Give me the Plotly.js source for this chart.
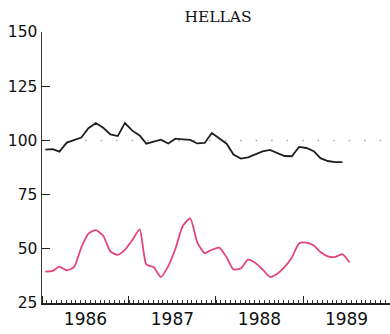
<!DOCTYPE html>
<html>
<head>
<meta charset="utf-8">
<script src="https://cdn.plot.ly/plotly-3.0.1.min.js"></script>
<style>html,body{margin:0;padding:0;background:#fff;}#chart{width:390px;height:334px;}</style>
</head>
<body>
<div id="chart"></div>
<script>
// Monthly index values, Jan 1986 onwards
const startYear = 1986;
const blackSeries = [95.7, 96.0, 94.8, 99.0, 100.1, 101.3, 105.6, 108.0, 105.8, 102.8, 102.0, 108.0,
  104.5, 102.3, 98.5, 99.6, 100.3, 98.6, 100.8, 100.5, 100.2, 98.6, 98.8, 103.4,
  101.0, 98.5, 93.5, 91.6, 92.2, 93.4, 94.9, 95.6, 94.2, 92.8, 92.7, 97.0,
  96.5, 95.0, 91.8, 90.5, 90.0, 90.0];
const pinkSeries = [39.5, 39.8, 41.8, 40.1, 41.5, 50.6, 57.0, 58.6, 56.0, 48.8, 47.2, 49.5,
  54.0, 59.0, 42.8, 41.5, 37.0, 42.0, 50.0, 60.5, 64.0, 53.0, 48.0, 49.5,
  50.5, 46.0, 40.5, 41.0, 45.0, 43.5, 40.5, 37.0, 38.5, 41.5, 46.0, 52.5,
  52.8, 51.5, 48.5, 46.5, 46.2, 47.5, 43.7];
const yTicks = [25, 50, 75, 100, 125, 150];
const refLevel = 100;
const chartTitle = 'HELLAS';

function monthDates(n) {
  const out = [];
  for (let i = 0; i < n; i++) {
    const y = startYear + Math.floor(i / 12);
    const m = (i % 12) + 1;
    out.push(y + '-' + String(m).padStart(2, '0') + '-15');
  }
  return out;
}

const traces = [
  {x: monthDates(blackSeries.length), y: blackSeries, type: 'scatter', mode: 'lines',
   line: {color: '#1e1e1e', width: 1.8}, hoverinfo: 'skip'},
  {x: monthDates(pinkSeries.length), y: pinkSeries, type: 'scatter', mode: 'lines',
   line: {color: '#e4437c', width: 1.8, shape: 'spline', smoothing: 0.6}, hoverinfo: 'skip'}
];

const layout = {
  width: 390, height: 334,
  margin: {l: 42, r: 0, t: 32, b: 31, pad: 0},
  paper_bgcolor: '#ffffff', plot_bgcolor: '#ffffff',
  showlegend: false,
  title: {text: chartTitle, font: {family: 'DejaVu Serif, serif', size: 15.5, color: '#111'},
          xref: 'container', yref: 'container', x: 0.559, y: 0.95, xanchor: 'center', yanchor: 'middle'},
  xaxis: {
    type: 'date', range: ['1986-01-01', '1990-01-01'],
    tick0: '1986-01-01', dtick: 'M12', tickformat: '%Y', ticklabelmode: 'period',
    ticks: 'inside', ticklen: 7, tickwidth: 1, tickcolor: '#222',
    showline: true, linecolor: '#222', linewidth: 1.5, showgrid: false, zeroline: false,
    tickfont: {family: 'DejaVu Sans, sans-serif', size: 17, color: '#111'},
    minor: {ticks: 'inside', ticklen: 3.5, tickwidth: 1, tickcolor: '#333', dtick: 1753200000, tick0: '1986-01-01', showgrid: false},
    fixedrange: true
  },
  yaxis: {
    range: [25, 150], tickvals: yTicks, ticktext: yTicks.map(String),
    ticks: 'inside', ticklen: 8, tickwidth: 1.2, tickcolor: '#222',
    showline: true, linecolor: '#3a3a2c', linewidth: 1.5, showgrid: false, zeroline: false,
    tickfont: {family: 'DejaVu Sans, sans-serif', size: 15.5, color: '#111'},
    ticklabelstandoff: 0,
    fixedrange: true
  },
  shapes: [{type: 'line', xref: 'x', yref: 'y', x0: '1986-07-01', x1: '1990-01-01', y0: refLevel, y1: refLevel,
            line: {color: '#a8a8a8', width: 1.5, dash: '1.5px,14px'}, layer: 'below'}]
};

Plotly.newPlot('chart', traces, layout, {staticPlot: true, displayModeBar: false});
</script>
</body>
</html>
